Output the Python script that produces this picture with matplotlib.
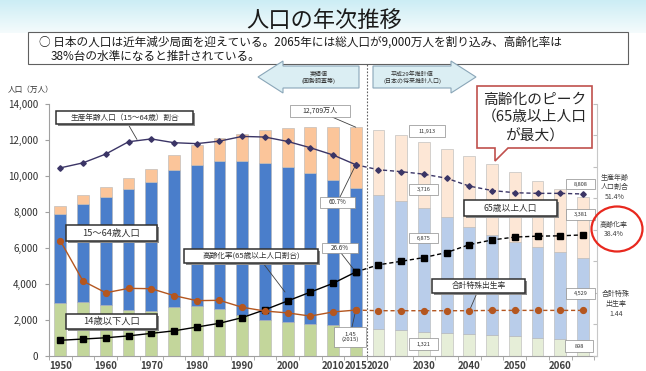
import matplotlib
matplotlib.use('Agg')
from matplotlib import pyplot as plt
from matplotlib.patches import Rectangle, Polygon, Ellipse
import numpy as np

plt.rcParams['font.family'] = ['Noto Sans CJK JP', 'DejaVu Sans']

years = [1950, 1955, 1960, 1965, 1970, 1975, 1980, 1985, 1990, 1995, 2000, 2005,
         2010, 2015, 2020, 2025, 2030, 2035, 2040, 2045, 2050, 2055, 2060, 2065]
n_actual = 14  # 1950-2015 are census values, the rest are projections

# population (10 thousand people)
pop_0_14 = [2943, 2980, 2807, 2517, 2482, 2722, 2751, 2603, 2249, 2001, 1847, 1752,
            1680, 1595, 1507, 1407, 1321, 1246, 1194, 1138, 1077, 1012, 951, 898]
pop_15_64 = [4966, 5473, 6047, 6744, 7157, 7581, 7883, 8251, 8590, 8716, 8622, 8409,
             8103, 7728, 7406, 7170, 6875, 6494, 5978, 5584, 5275, 5028, 4793, 4529]
pop_65 = [411, 475, 535, 624, 733, 887, 1065, 1247, 1489, 1826, 2201, 2567,
          2925, 3387, 3619, 3677, 3716, 3782, 3921, 3919, 3841, 3704, 3540, 3381]

# ratios (%)
working_ratio = [59.7, 61.3, 64.1, 68.0, 68.9, 67.7, 67.4, 68.2, 69.7, 69.5, 68.1, 66.1,
                 63.8, 60.7, 59.1, 58.5, 57.7, 56.4, 53.9, 52.5, 51.8, 51.6, 51.6, 51.4]
aging_ratio = [4.9, 5.3, 5.7, 6.3, 7.1, 7.9, 9.1, 10.3, 12.1, 14.6, 17.4, 20.2,
               23.0, 26.6, 28.9, 30.0, 31.2, 32.8, 35.3, 36.8, 37.7, 38.0, 38.1, 38.4]
# total fertility rate
fertility = [3.65, 2.37, 2.00, 2.14, 2.13, 1.91, 1.75, 1.76, 1.54, 1.42, 1.36, 1.26,
             1.39, 1.45, 1.43, 1.43, 1.43, 1.43, 1.43, 1.44, 1.44, 1.44, 1.44, 1.44]

tick_years = [1950, 1960, 1970, 1980, 1990, 2000, 2010, 2015, 2020, 2030, 2040, 2050, 2060]

W, H = 646, 371
fig = plt.figure(figsize=(W / 100, H / 100), dpi=100)


def fx(x):
    return x / W


def fy(y):
    return 1 - y / H


# title band
band = fig.add_axes([0, fy(33), 1, 33 / H])
top = np.array([0.80, 0.93, 0.96])
bot = np.array([0.96, 0.985, 0.99])
t = np.linspace(0, 1, 50)[:, None]
grad = (top * (1 - t) + bot * t)[:, None, :]
band.imshow(grad, aspect='auto', extent=[0, 1, 0, 1])
band.axis('off')
fig.text(fx(324), fy(20), '人口の年次推移', fontsize=16, ha='center', va='center', color='#1a1a1a')

fig.add_artist(Rectangle((fx(28), fy(64)), fx(600), 32 / H, transform=fig.transFigure,
                         fc='white', ec='#606060', lw=0.8))
fig.text(fx(39), fy(42.5), '○ 日本の人口は近年減少局面を迎えている。2065年には総人口が9,000万人を割り込み、高齢化率は',
         fontsize=8.4, va='center', color='#1a1a1a')
fig.text(fx(51), fy(56), '38%台の水準になると推計されている。', fontsize=8.4, va='center', color='#1a1a1a')

# main axes
ax = fig.add_axes([fx(49), fy(355.7), fx(597 - 49), (355.7 - 104) / H])
x = np.arange(len(years))
young = np.array(pop_0_14)
work = np.array(pop_15_64)
old = np.array(pop_65)

c_young = ['#c3d69b' if i < n_actual else '#e6eed8' for i in x]
c_work = ['#4a7ecb' if i < n_actual else '#b9cdea' for i in x]
c_old = ['#fbc59a' if i < n_actual else '#fde7d6' for i in x]
bw = 0.52
ax.bar(x, young, bw, color=c_young, edgecolor='#b5b5b5', lw=0.4)
ax.bar(x, work, bw, bottom=young, color=c_work, edgecolor='#b5b5b5', lw=0.4)
ax.bar(x, old, bw, bottom=young + work, color=c_old, edgecolor='#b5b5b5', lw=0.4)

ax.set_xlim(-0.484, 23.616)
ax.set_ylim(0, 14000)
ax.set_yticks(range(0, 14001, 2000))
ax.set_yticklabels(['{:,}'.format(v) for v in range(0, 14001, 2000)])
ax.tick_params(axis='y', length=3, pad=5, labelsize=7, colors='#a0a0a0', labelcolor='#303030')
ax.set_xticks([years.index(y) for y in tick_years])
ax.set_xticklabels([str(y) for y in tick_years], fontweight='bold')
ax.tick_params(axis='x', which='major', length=0, pad=4, labelsize=7, labelcolor='#404040')
ax.set_xticks(np.arange(-0.5, 24, 1), minor=True)
ax.tick_params(axis='x', which='minor', length=3, color='#a0a0a0')
for s in ['top', 'right']:
    ax.spines[s].set_visible(False)
for s in ['left', 'bottom']:
    ax.spines[s].set_color('#a0a0a0')

ax.axvline(13.5, ymin=0, ymax=(355.7 - 58) / (355.7 - 104), color='#606060', lw=0.8,
           ls=(0, (1.5, 1.5)), clip_on=False)

# ratio axis (0-80 %)
ax2 = ax.twinx()
ax2.set_ylim(0, 80)
ax2.set_yticks(range(0, 81, 10))
ax2.set_yticklabels([])
ax2.tick_params(axis='y', direction='in', length=3, color='#c0c0c0')
for s in ['top', 'left', 'bottom']:
    ax2.spines[s].set_visible(False)
ax2.spines['right'].set_color('#c8c8c8')

# fertility axis (0-8), hidden
ax3 = ax.twinx()
ax3.set_ylim(0, 8)
ax3.yaxis.set_visible(False)
for s in ax3.spines.values():
    s.set_visible(False)

a = n_actual
ax2.plot(x[:a], working_ratio[:a], color='#3b3566', lw=1, marker='D', ms=2.8)
ax2.plot(x[a - 1:], working_ratio[a - 1:], color='#3b3566', lw=1, marker='D', ms=2.8, dashes=(3, 2))
ax2.plot(x[:a], aging_ratio[:a], color='black', lw=1, marker='s', ms=4)
ax2.plot(x[a - 1:], aging_ratio[a - 1:], color='black', lw=1, marker='s', ms=4, dashes=(3, 2))
ax3.plot(x[:a], fertility[:a], color='#b4561f', lw=1, marker='o', ms=4.2)
ax3.plot(x[a - 1:], fertility[a - 1:], color='#b4561f', lw=1, marker='o', ms=4.2, dashes=(3, 2))

fig.text(fx(8), fy(90), '人口（万人）', fontsize=5.5, va='center', color='#303030')


def box(x0, y0, x1, y1, text, size, strong=False):
    if strong:
        fig.add_artist(Rectangle((fx(x0 + 2), fy(y1 + 2)), fx(x1 - x0), (y1 - y0) / H,
                                 transform=fig.transFigure, fc='#8a8a8a', ec='none'))
        fig.add_artist(Rectangle((fx(x0), fy(y1)), fx(x1 - x0), (y1 - y0) / H,
                                 transform=fig.transFigure, fc='white', ec='#303030', lw=1.1))
    else:
        fig.add_artist(Rectangle((fx(x0), fy(y1)), fx(x1 - x0), (y1 - y0) / H,
                                 transform=fig.transFigure, fc='white', ec='#8c8c8c', lw=0.5))
    fig.text(fx((x0 + x1) / 2), fy((y0 + y1) / 2), text, fontsize=size, ha='center',
             va='center', color='#303030', linespacing=1.1)


def leader(x0, y0, xy, coords):
    ax.annotate('', xy=xy, xycoords=coords, xytext=(fx(x0), fy(y0)), textcoords='figure fraction',
                arrowprops=dict(arrowstyle='-', color='#404040', lw=0.6, shrinkA=0, shrinkB=0),
                annotation_clip=False)


ff = 'figure fraction'
leader(128, 124, (fx(137), fy(139.5)), ff)
leader(332, 117, (13, sum([pop_0_14[13], pop_15_64[13], pop_65[13]])), ax.transData)
leader(340, 197, (13, working_ratio[13]), ax2.transData)
leader(341, 253, (13, aging_ratio[13]), ax2.transData)
leader(352, 327, (13, fertility[13]), ax3.transData)
leader(263, 263, (fx(285), fy(292)), ff)
leader(477, 293, (18, fertility[18]), ax3.transData)

box(56, 111, 193, 124, '生産年齢人口（15～64歳）割合', 5.5, strong=True)
box(66, 225, 157, 241, '15～64歳人口', 6.7, strong=True)
box(66, 314, 157, 329, '14歳以下人口', 6.7, strong=True)
box(184, 249, 318, 263, '高齢化率(65歳以上人口割合)', 5.5, strong=True)
box(464, 200, 557, 216, '65歳以上人口', 6.3, strong=True)
box(432, 279, 525, 293, '合計特殊出生率', 5.6, strong=True)

box(290, 105, 350, 117, '12,709万人', 5)
box(320, 197, 355, 208, '60.7%', 4.5)
box(322, 243, 358, 253, '26.6%', 4.5)
box(334, 327, 366, 347, '1.45\n(2015)', 4.3)
box(409, 125, 445, 137, '11,913', 4)
box(409, 184, 438, 195, '3,716', 4)
box(409, 233, 438, 243, '6,875', 4)
box(409, 338, 438, 350, '1,321', 4)
box(566, 179, 595, 189, '8,808', 4)
box(566, 209, 595, 220, '3,381', 4)
box(566, 288, 595, 299, '4,529', 4)
box(565, 340, 593, 352, '898', 4)

# period arrows
arrow_l = [(258, 77), (283, 61), (283, 66), (359, 66), (359, 88), (283, 88), (283, 93)]
arrow_r = [(373, 66), (451, 66), (451, 61), (476, 77), (451, 93), (451, 88), (373, 88)]
for pts in [arrow_l, arrow_r]:
    fig.add_artist(Polygon([(fx(px), fy(py)) for px, py in pts], closed=True,
                           transform=fig.transFigure, fc='#dbeef3', ec='#8aa6b8', lw=0.8))
fig.text(fx(319), fy(77.5), '実績値\n(国勢調査等)', fontsize=4.3, ha='center', va='center',
         color='#303030', linespacing=1.3)
fig.text(fx(412), fy(77.5), '平成29年推計値\n(日本の将来推計人口)', fontsize=4.3, ha='center',
         va='center', color='#303030', linespacing=1.3)

# peak callout
callout = [(477, 86), (592, 86), (592, 148), (508, 148), (495, 161), (495, 148), (477, 148)]
fig.add_artist(Polygon([(fx(px), fy(py)) for px, py in callout], closed=True,
                       transform=fig.transFigure, fc='white', ec='#c0504d', lw=1.2))
for line, yy in [('高齢化のピーク', 100), ('（65歳以上人口', 118), ('が最大）', 136)]:
    fig.text(fx(534.5), fy(yy), line, fontsize=10.6, ha='center', va='center', color='#262626')

# right side notes
fig.text(fx(615), fy(187.5), '生産年齢\n人口割合\n51.4%', fontsize=5, ha='center', va='center',
         color='#404040', linespacing=1.3)
fig.text(fx(614), fy(229.5), '高齢化率\n38.4%', fontsize=5, ha='center', va='center',
         color='#404040', linespacing=1.3)
fig.text(fx(616), fy(304), '合計特殊\n出生率\n1.44', fontsize=5, ha='center', va='center',
         color='#404040', linespacing=1.3)
fig.add_artist(Ellipse((fx(617), fy(229)), 51 / W, 45 / H, transform=fig.transFigure,
                       fill=False, ec='#e8281e', lw=1.6))

fig.savefig('out.png', dpi=100)
